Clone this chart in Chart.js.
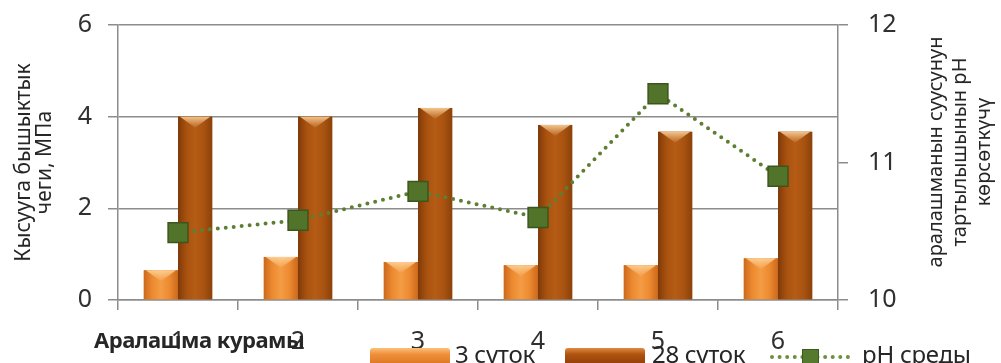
<!DOCTYPE html>
<html>
<head>
<meta charset="utf-8">
<script src="https://cdn.jsdelivr.net/npm/chart.js@4.4.1/dist/chart.umd.min.js"></script>
<style>
  html, body { margin: 0; padding: 0; background: #fff; overflow: hidden; }
  #wrap { position: relative; width: 1001px; height: 363px; overflow: hidden; font-family: "Noto Sans", sans-serif; color: #262626; }
  #c { position: absolute; left: 0; top: 0; }
  #xtitle { position: absolute; left: 94px; top: 324px; font-size: 22px; font-weight: bold; color: #262626; white-space: nowrap; letter-spacing: -0.5px; }
  #rtitle { position: absolute; left: 959px; top: 152px; width: 280px; transform: translate(-50%, -50%) rotate(-90deg); text-align: center; font-size: 20px; line-height: 24px; color: #262626; white-space: nowrap; }
  .leg { position: absolute; top: 341px; height: 30px; }
  .sw { position: absolute; top: 7px; width: 80px; height: 18px; border-radius: 3px; }
  .lt { position: absolute; top: -4px; font-size: 24px; color: #262626; white-space: nowrap; letter-spacing: -0.3px; }
</style>
</head>
<body>
<div id="wrap">
  <canvas id="c" width="1001" height="363"></canvas>
  <div id="xtitle">Аралашма курамы</div>
  <div id="rtitle">аралашманын суусунун<br>тартылышынын pH<br>көрсөткүчү</div>
  <div class="leg" style="left:370px">
    <div class="sw" style="left:0;background:linear-gradient(to bottom,#FBC07A,#F0903A 35%,#D8721F)"></div>
    <div class="lt" style="left:85px">3 суток</div>
  </div>
  <div class="leg" style="left:565px">
    <div class="sw" style="left:0;background:linear-gradient(to bottom,#E08A44,#B0540F 35%,#8A3C08)"></div>
    <div class="lt" style="left:87px">28 суток</div>
  </div>
  <div class="leg" style="left:770px">
    <div style="position:absolute;left:0;top:14px;width:80px;border-top:4px dotted #6F8F3C"></div>
    <div style="position:absolute;left:32px;top:8px;width:15px;height:15px;background:#557A2E;border:1px solid #3E5A1F"></div>
    <div class="lt" style="left:92px">pH среды</div>
  </div>
</div>
<script>
const categories = ['1', '2', '3', '4', '5', '6'];
const strength3 = [0.65, 0.94, 0.83, 0.76, 0.76, 0.91];
const strength28 = [4.0, 4.0, 4.19, 3.82, 3.67, 3.67];
const phValues = [10.49, 10.58, 10.79, 10.6, 11.5, 10.9];
const leftTicks = [0, 2, 4, 6];
const rightTicks = [10, 11, 12];

const barStops = {
  light: ['#CC681C', '#EC8A30', '#F49C44', '#EC8A30', '#CC681C'],
  dark: ['#7E3A08', '#A9520F', '#B55C16', '#AA5310', '#8A420A']
};

const barShade = {
  id: 'barShade',
  afterDatasetDraw(chart, args) {
    const ds = chart.data.datasets[args.index];
    if (ds.type !== 'bar') return;
    const stops = barStops[ds.shade];
    const ctx = chart.ctx;
    ctx.save();
    args.meta.data.forEach(el => {
      const p = el.getProps(['x', 'y', 'base', 'width'], true);
      const l = p.x - p.width / 2, r = p.x + p.width / 2;
      const g = ctx.createLinearGradient(l, 0, r, 0);
      stops.forEach((c, i) => g.addColorStop(i / (stops.length - 1), c));
      ctx.fillStyle = g;
      ctx.fillRect(l, p.y, p.width, p.base - p.y);
      const h = ctx.createLinearGradient(0, p.y, 0, p.y + 12);
      h.addColorStop(0, 'rgba(255,215,160,0.85)');
      h.addColorStop(1, 'rgba(255,215,160,0)');
      ctx.fillStyle = h;
      ctx.beginPath();
      ctx.moveTo(l + 2, p.y);
      ctx.lineTo(r - 2, p.y);
      ctx.lineTo(p.x, p.y + 11);
      ctx.closePath();
      ctx.fill();
    });
    ctx.restore();
  }
};

const tickFont = { family: '"Noto Sans", sans-serif', size: 25 };
const gridColor = '#8c8c8c';

function noPadV(s) { s.paddingTop = 0; s.paddingBottom = 0; }

new Chart(document.getElementById('c'), {
  data: {
    labels: categories,
    datasets: [
      {
        type: 'line', label: 'pH среды', data: phValues, yAxisID: 'y1', order: 0,
        borderColor: '#5E7F33', borderWidth: 4, borderDash: [0, 8], borderCapStyle: 'round',
        pointStyle: 'rect', pointRadius: 14, pointBackgroundColor: '#52742A',
        pointBorderColor: '#3B561C', pointBorderWidth: 1.5, fill: false, tension: 0
      },
      {
        type: 'bar', label: '3 суток', data: strength3, yAxisID: 'y', order: 1, shade: 'light',
        backgroundColor: '#EC8A30', borderWidth: 0, categoryPercentage: 0.57, barPercentage: 1
      },
      {
        type: 'bar', label: '28 суток', data: strength28, yAxisID: 'y', order: 1, shade: 'dark',
        backgroundColor: '#A9520F', borderWidth: 0, categoryPercentage: 0.57, barPercentage: 1
      }
    ]
  },
  options: {
    responsive: false,
    animation: false,
    layout: { padding: { top: 25, left: 0, right: 0, bottom: 0 } },
    plugins: { legend: { display: false }, tooltip: { enabled: false } },
    scales: {
      x: {
        type: 'category',
        grid: { display: true, drawOnChartArea: false, drawTicks: true, tickLength: 10, color: gridColor, lineWidth: 1.5, offset: true },
        border: { display: true, color: gridColor, width: 1.5 },
        ticks: { font: tickFont, color: '#303030', padding: 17, maxRotation: 0 },
        afterFit(s) { s.height = 63; s.paddingLeft = 0; s.paddingRight = 0; }
      },
      y: {
        position: 'left', min: 0, max: 6,
        afterBuildTicks(s) { s.ticks = leftTicks.map(v => ({ value: v })); },
        grid: { color: gridColor, lineWidth: 1.5, tickLength: 10 },
        border: { display: true, color: gridColor, width: 1.5 },
        ticks: { font: tickFont, color: '#303030', padding: 16 },
        title: {
          display: true, text: ['Кысууга бышыктык', 'чеги, МПа'],
          font: { family: '"Noto Sans", sans-serif', size: 21, lineHeight: 1.0 }, color: '#262626',
          padding: { top: 14, bottom: 0 }
        },
        afterFit(s) { s.width = 118; noPadV(s); }
      },
      y1: {
        position: 'right', min: 10, max: 12,
        afterBuildTicks(s) { s.ticks = rightTicks.map(v => ({ value: v })); },
        grid: { drawOnChartArea: false, drawTicks: true, color: gridColor, lineWidth: 1.5, tickLength: 10 },
        border: { display: true, color: gridColor, width: 1.5 },
        ticks: { font: tickFont, color: '#303030', padding: 20 },
        afterFit(s) { s.width = 163; noPadV(s); }
      }
    }
  },
  plugins: [barShade]
});
</script>
</body>
</html>
